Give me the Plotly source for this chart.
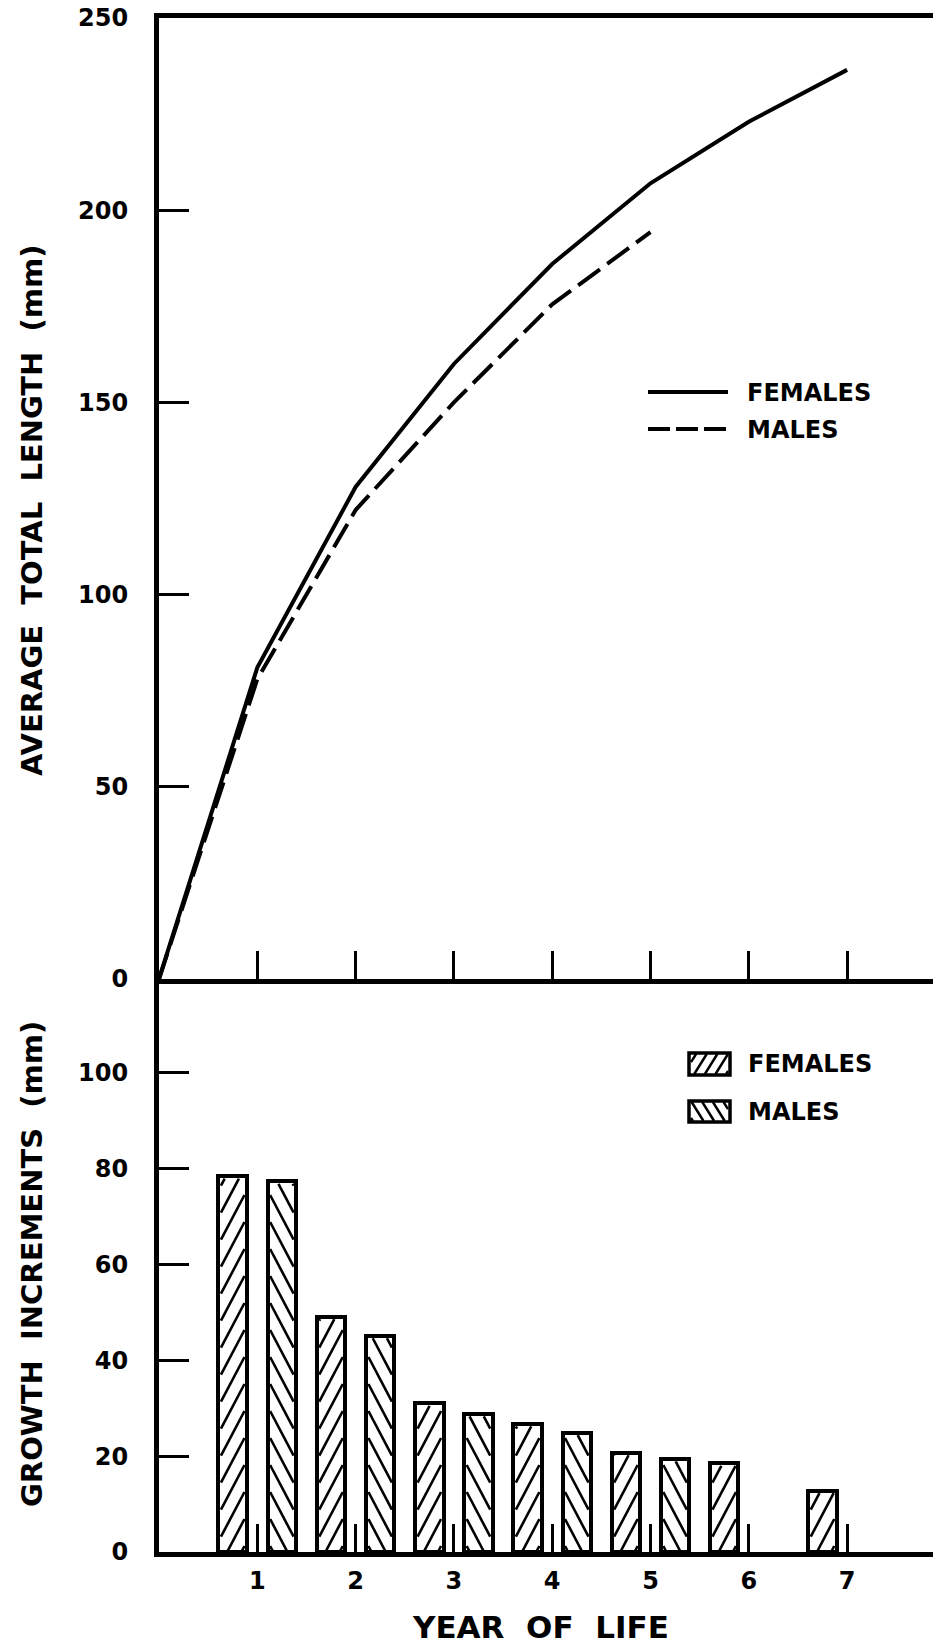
import plotly.graph_objects as go

# ---- data -------------------------------------------------------------
years_f = [0, 1, 2, 3, 4, 5, 6, 7]
female_length = [0, 81, 128, 160, 186, 207, 223, 236.5]
years_m = [0, 1, 2, 3, 4, 5]
male_length = [0, 78, 122, 150, 175.5, 194.3]

inc_years_f = [1, 2, 3, 4, 5, 6, 7]
female_inc = [78.4, 49.1, 31.0, 26.7, 20.7, 18.5, 12.8]
inc_years_m = [1, 2, 3, 4, 5]
male_inc = [77.3, 45.1, 28.8, 24.9, 19.4]

x_tickvals = [1, 2, 3, 4, 5, 6, 7]
x_ticktext = ["1", "2", "3", "4", "5", "6", "7"]
top_y_ticks = [0, 50, 100, 150, 200, 250]
bot_y_ticks = [0, 20, 40, 60, 80, 100]

# ---- layout geometry (pixels) ----------------------------------------
W, H = 933, 1644
ML = 159
TOP_PX, MID_PX, BOT_PX = 18, 979, 1552
X_MAX = 7.874
Y_TOP_MAX = 250
Y_BOT_MAX = 119.5

KX = (W - ML) / X_MAX                  # px per year
KY = (BOT_PX - MID_PX) / Y_BOT_MAX     # px per mm (lower panel)

BAR_W = 0.29
OFFSET = 0.25
FONT = "DejaVu Sans"
INK = "black"


def paper_x(px):
    return (px - ML) / (W - ML)


def paper_y(py):
    return 1 - py / H


def hatch_px(left, right, bottom, top, slope, period, direction, phase=0.0):
    """Diagonal hatch segments clipped to a rectangle (pixel space, y up)."""
    segs = []
    w = right - left
    h = top - bottom
    c = -slope * w + phase
    while c < h:
        t0 = max(0.0, (0 - c) / slope)
        t1 = min(w, (h - c) / slope)
        if t1 > t0:
            if direction > 0:
                xa, xb = left + t0, left + t1
            else:
                xa, xb = right - t0, right - t1
            ya, yb = bottom + c + slope * t0, bottom + c + slope * t1
            segs.append((xa, ya, xb, yb))
        c += period
    return segs


def bar_hatch(centers, heights, direction):
    xs, ys = [], []
    inset = 2.5
    for xc, hv in zip(centers, heights):
        left = (xc - BAR_W / 2) * KX + inset
        right = (xc + BAR_W / 2) * KX - inset
        top = hv * KY - inset
        for xa, ya, xb, yb in hatch_px(left, right, 0.0, top, 1.9, 27, direction, phase=6):
            xs += [xa / KX, xb / KX, None]
            ys += [ya / KY, yb / KY, None]
    return xs, ys


fig = go.Figure()

# ---- upper panel: growth curves --------------------------------------
fig.add_trace(go.Scatter(x=years_f, y=female_length, mode="lines", xaxis="x2", yaxis="y2",
                         line=dict(color=INK, width=4), name="FEMALES", showlegend=False))
fig.add_trace(go.Scatter(x=years_m, y=male_length, mode="lines", xaxis="x2", yaxis="y2",
                         line=dict(color=INK, width=4, dash="27px,9px"), name="MALES",
                         showlegend=False))

# ---- lower panel: growth increments ----------------------------------
xf = [y - OFFSET for y in inc_years_f]
xm = [y + OFFSET for y in inc_years_m]
fig.add_trace(go.Bar(x=xf, y=female_inc, width=BAR_W, xaxis="x", yaxis="y",
                     marker=dict(color="white", line=dict(color=INK, width=4)),
                     showlegend=False))
fig.add_trace(go.Bar(x=xm, y=male_inc, width=BAR_W, xaxis="x", yaxis="y",
                     marker=dict(color="white", line=dict(color=INK, width=4)),
                     showlegend=False))
hx, hy = bar_hatch(xf, female_inc, +1)
fig.add_trace(go.Scatter(x=hx, y=hy, mode="lines", xaxis="x", yaxis="y",
                         line=dict(color=INK, width=2.6), hoverinfo="skip", showlegend=False))
hx, hy = bar_hatch(xm, male_inc, -1)
fig.add_trace(go.Scatter(x=hx, y=hy, mode="lines", xaxis="x", yaxis="y",
                         line=dict(color=INK, width=2.6), hoverinfo="skip", showlegend=False))

tickfont = dict(family=FONT, size=24, color=INK, weight="bold")
dom_bot = [paper_y(BOT_PX), paper_y(MID_PX)]
dom_top = [paper_y(MID_PX), paper_y(TOP_PX)]

fig.update_layout(
    width=W, height=H,
    margin=dict(l=ML, r=0, t=0, b=0, autoexpand=False),
    paper_bgcolor="white", plot_bgcolor="white",
    barmode="overlay", bargap=0,
    xaxis=dict(domain=[0, 1], range=[0, X_MAX], anchor="y",
               tickvals=x_tickvals, ticktext=x_ticktext, ticks="inside", ticklen=28,
               tickwidth=2.5, tickcolor=INK, showline=True, linewidth=5, linecolor=INK,
               showgrid=False, zeroline=False, tickfont=tickfont, ticklabelstandoff=3),
    yaxis=dict(domain=dom_bot, range=[0, Y_BOT_MAX], anchor="x",
               tickvals=bot_y_ticks, ticks="inside", ticklen=30, tickwidth=2.5,
               tickcolor=INK, showline=True, linewidth=5, linecolor=INK,
               showgrid=False, zeroline=False, tickfont=tickfont, ticklabelstandoff=21),
    xaxis2=dict(domain=[0, 1], range=[0, X_MAX], anchor="y2",
                tickvals=x_tickvals, ticks="inside", ticklen=28, tickwidth=2.5,
                tickcolor=INK, showticklabels=False, showline=True, mirror=True,
                linewidth=5, linecolor=INK, showgrid=False, zeroline=False),
    yaxis2=dict(domain=dom_top, range=[0, Y_TOP_MAX], anchor="x2",
                tickvals=top_y_ticks, ticks="inside", ticklen=30, tickwidth=2.5,
                tickcolor=INK, showline=True, linewidth=5, linecolor=INK,
                showgrid=False, zeroline=False, tickfont=tickfont, ticklabelstandoff=21),
    showlegend=False,
)

# ---- axis titles ------------------------------------------------------
title_font = dict(family=FONT, size=29, color=INK, weight="bold")
sp = "\u00a0\u00a0"
fig.add_annotation(text=f"AVERAGE{sp}TOTAL{sp}LENGTH{sp}(mm)", textangle=-90,
                   xref="paper", yref="paper", x=paper_x(32), y=paper_y(511),
                   xanchor="center", yanchor="middle", showarrow=False, font=title_font)
fig.add_annotation(text=f"GROWTH{sp}INCREMENTS{sp}(mm)", textangle=-90,
                   xref="paper", yref="paper", x=paper_x(32), y=paper_y(1264),
                   xanchor="center", yanchor="middle", showarrow=False, font=title_font)
fig.add_annotation(text=f"YEAR{sp}OF{sp}LIFE",
                   xref="paper", yref="paper", x=paper_x(540), y=paper_y(1627),
                   xanchor="center", yanchor="middle", showarrow=False,
                   font=dict(family=FONT, size=31, color=INK, weight="bold"))

# ---- keys -------------------------------------------------------------
key_font = dict(family=FONT, size=24, color=INK, weight="bold")
shapes = []
# upper key: line samples
shapes.append(dict(type="line", xref="paper", yref="paper",
                   x0=paper_x(648), x1=paper_x(728), y0=paper_y(392), y1=paper_y(392),
                   line=dict(color=INK, width=4)))
shapes.append(dict(type="line", xref="paper", yref="paper",
                   x0=paper_x(648), x1=paper_x(728), y0=paper_y(429), y1=paper_y(429),
                   line=dict(color=INK, width=4, dash="22px,6px")))
for label, py in (("FEMALES", 393), ("MALES", 430)):
    fig.add_annotation(text=label, xref="paper", yref="paper", x=paper_x(745), y=paper_y(py),
                       xanchor="left", yanchor="middle", showarrow=False, font=key_font)

# lower key: hatched swatches
for label, (ytop, ybot), direction in (("FEMALES", (1053, 1075), +1),
                                         ("MALES", (1101, 1122), -1)):
    x0s, x1s = 689, 730
    shapes.append(dict(type="rect", xref="paper", yref="paper",
                       x0=paper_x(x0s), x1=paper_x(x1s), y0=paper_y(ybot), y1=paper_y(ytop),
                       line=dict(color=INK, width=3.5), fillcolor="white"))
    for xa, ya, xb, yb in hatch_px(x0s + 2, x1s - 2, 0, (ybot - ytop) - 2, 1.6, 17, direction, 3):
        shapes.append(dict(type="line", xref="paper", yref="paper",
                           x0=paper_x(xa), x1=paper_x(xb),
                           y0=paper_y(ybot - 1 - ya), y1=paper_y(ybot - 1 - yb),
                           line=dict(color=INK, width=2.4)))
    fig.add_annotation(text=label, xref="paper", yref="paper", x=paper_x(746),
                       y=paper_y((ytop + ybot) / 2), xanchor="left", yanchor="middle",
                       showarrow=False, font=key_font)

fig.update_layout(shapes=shapes)

fig.write_html("out.html")
